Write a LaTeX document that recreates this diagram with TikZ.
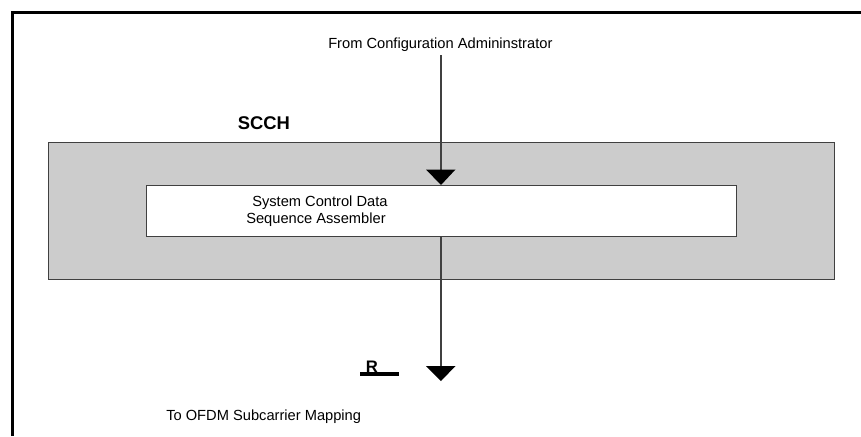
\documentclass[tikz,border=0pt]{standalone}
\usepackage{fontspec}
\setmainfont{Liberation Sans}
\usetikzlibrary{calc}
\tikzset{
  x=0.75pt,y=-0.75pt,
  outerbox/.style={draw=black!75,line width=1.1pt,fill=black!20,inner sep=0pt,minimum width=589.5pt,minimum height=102.5pt,anchor=north west},
  innerbox/.style={draw=black!75,line width=0.9pt,fill=white,inner sep=0pt,minimum width=442.5pt,minimum height=38.25pt,anchor=north west},
  frameline/.style={draw=black,line width=1.9pt},
  flow/.style={draw=black!75,line width=0.8pt},
  head/.style={fill=black},
  lbl/.style={font=\fontsize{11pt}{13pt}\selectfont,inner sep=0pt,anchor=base west},
}
\begin{document}
\begin{tikzpicture}
\useasboundingbox (0,0) rectangle (861,436);
\draw[frameline] (12.5,436) -- (12.5,12.5) -- (861,12.5);
\node[outerbox] (scch) at (48,142) {};
\node[innerbox] (asm) at (146,185) {};
\node[lbl] (src) at (328,48) {From Configuration Admininstrator};
\node[lbl,font=\bfseries\fontsize{13.8pt}{16pt}\selectfont] (title) at (237.5,129) {SCCH};
\node[lbl] (l1) at (252,206) {System Control Data};
\node[lbl] (l2) at (246,223) {Sequence Assembler};
\node[lbl] (dst) at (166,420) {To OFDM Subcarrier Mapping};
\node[lbl,font=\bfseries\fontsize{12.5pt}{14pt}\selectfont] (r) at (365.5,372) {R};
\coordinate (rs) at (360,374);
\coordinate (re) at (399,374);
\draw[black,line width=2.8pt] (rs) -- (re);
\coordinate (top) at (441,55);
\coordinate (bot) at (441,368);
\draw[flow] (top) -- (441,172);
\fill[head] (426,169.5) -- (455.5,169.5) -- (441,185) -- cycle;
\draw[flow] (asm.south -| top) -- (bot);
\fill[head] (426,366) -- (455.5,366) -- (441,381) -- cycle;
\end{tikzpicture}
\end{document}
